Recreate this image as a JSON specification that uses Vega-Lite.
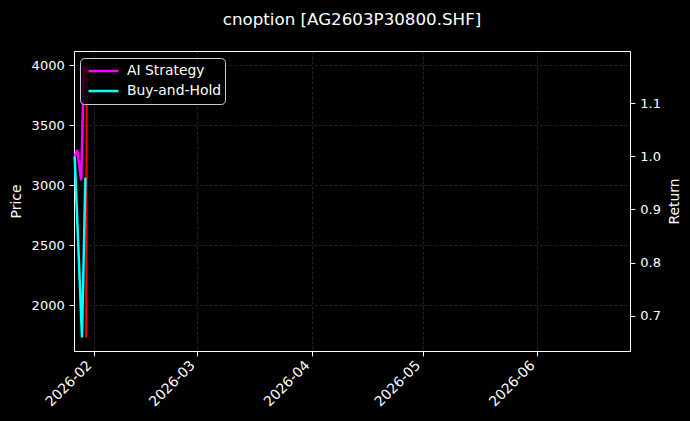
{
  "$schema": "https://vega.github.io/schema/vega-lite/v6.json",
  "description": "Option price with AI strategy and buy-and-hold returns, dark theme.",
  "width": 556,
  "height": 300,
  "autosize": {"type": "none"},
  "padding": {"left": 74, "top": 51, "right": 60, "bottom": 70},
  "background": "black",
  "title": {
    "text": "cnoption [AG2603P30800.SHF]",
    "color": "white",
    "font": "DejaVu Sans",
    "fontSize": 16.7,
    "fontWeight": "normal",
    "anchor": "middle",
    "offset": 22
  },
  "data": {
    "values": [
      {"date": "2026-01-29T21:00", "series": "Price", "value": 1730},
      {"date": "2026-01-30T00:30", "series": "Price", "value": 4003},
      {"date": "2026-01-26T18:30", "series": "AI Strategy", "value": 1.0},
      {"date": "2026-01-27T10:40", "series": "AI Strategy", "value": 1.012},
      {"date": "2026-01-28T12:40", "series": "AI Strategy", "value": 0.955},
      {"date": "2026-01-29T06:15", "series": "AI Strategy", "value": 1.172},
      {"date": "2026-01-26T18:30", "series": "Buy-and-Hold", "value": 1.0},
      {"date": "2026-01-28T17:54", "series": "Buy-and-Hold", "value": 0.659},
      {"date": "2026-01-29T16:00", "series": "Buy-and-Hold", "value": 0.96}
    ]
  },
  "layer": [
    {
      "transform": [{"filter": "datum.series === 'Price'"}],
      "mark": {"type": "line", "color": "#ff0000", "strokeWidth": 2},
      "encoding": {
        "x": {
          "field": "date",
          "type": "temporal",
          "scale": {"domain": ["2026-01-26T14:00", "2026-06-26T01:00"], "nice": false},
          "axis": {
            "title": null,
            "format": "%Y-%m",
            "tickCount": {"interval": "month", "step": 1},
            "labelAngle": -45,
            "labelAlign": "right",
            "labelBaseline": "bottom",
            "labelFontSize": 13.9,
            "labelPadding": 12
          }
        },
        "y": {
          "field": "value",
          "type": "quantitative",
          "scale": {"domain": [1617, 4117], "nice": false, "zero": false},
          "axis": {
            "orient": "left",
            "title": "Price",
            "values": [2000, 2500, 3000, 3500, 4000],
            "format": "d",
            "titlePadding": 8
          }
        }
      }
    },
    {
      "transform": [{"filter": "datum.series !== 'Price'"}],
      "mark": {"type": "line", "strokeWidth": 2.5},
      "encoding": {
        "x": {
          "field": "date",
          "type": "temporal",
          "scale": {"domain": ["2026-01-26T14:00", "2026-06-26T01:00"], "nice": false},
          "axis": {
            "title": null,
            "format": "%Y-%m",
            "tickCount": {"interval": "month", "step": 1},
            "labelAngle": -45,
            "labelAlign": "right",
            "labelBaseline": "bottom",
            "labelFontSize": 13.9,
            "labelPadding": 12
          }
        },
        "y": {
          "field": "value",
          "type": "quantitative",
          "scale": {"domain": [0.6335, 1.1985], "nice": false, "zero": false},
          "axis": {
            "orient": "right",
            "title": "Return",
            "titleAngle": 270,
            "titleBaseline": "top",
            "values": [0.7, 0.8, 0.9, 1.0, 1.1],
            "format": ".1f",
            "titlePadding": 7
          }
        },
        "color": {
          "field": "series",
          "type": "nominal",
          "scale": {"domain": ["AI Strategy", "Buy-and-Hold"], "range": ["#ff00ff", "#00ffff"]},
          "legend": {
            "title": null,
            "orient": "none",
            "legendX": 6,
            "legendY": 7,
            "symbolType": "stroke",
            "symbolSize": 900,
            "symbolStrokeWidth": 2.5,
            "symbolOffset": 4,
            "clipHeight": 20,
            "fillColor": "rgba(0,0,0,0.8)",
            "strokeColor": "#cccccc",
            "cornerRadius": 4,
            "padding": 3,
            "rowPadding": 0,
            "labelOffset": 7,
            "labelColor": "white",
            "labelFont": "DejaVu Sans",
            "labelFontSize": 13.9
          }
        }
      }
    }
  ],
  "resolve": {"scale": {"y": "independent"}},
  "config": {
    "view": {"stroke": "white", "strokeWidth": 1},
    "axis": {
      "domainColor": "white",
      "tickColor": "white",
      "tickSize": 4.9,
      "labelColor": "white",
      "labelFont": "DejaVu Sans",
      "labelFontSize": 13,
      "labelPadding": 4.9,
      "titleColor": "white",
      "titleFont": "DejaVu Sans",
      "titleFontSize": 13.9,
      "titleFontWeight": "normal",
      "grid": true,
      "gridColor": "#888888",
      "gridOpacity": 0.45,
      "gridDash": [3, 2],
      "gridWidth": 0.6
    }
  }
}
